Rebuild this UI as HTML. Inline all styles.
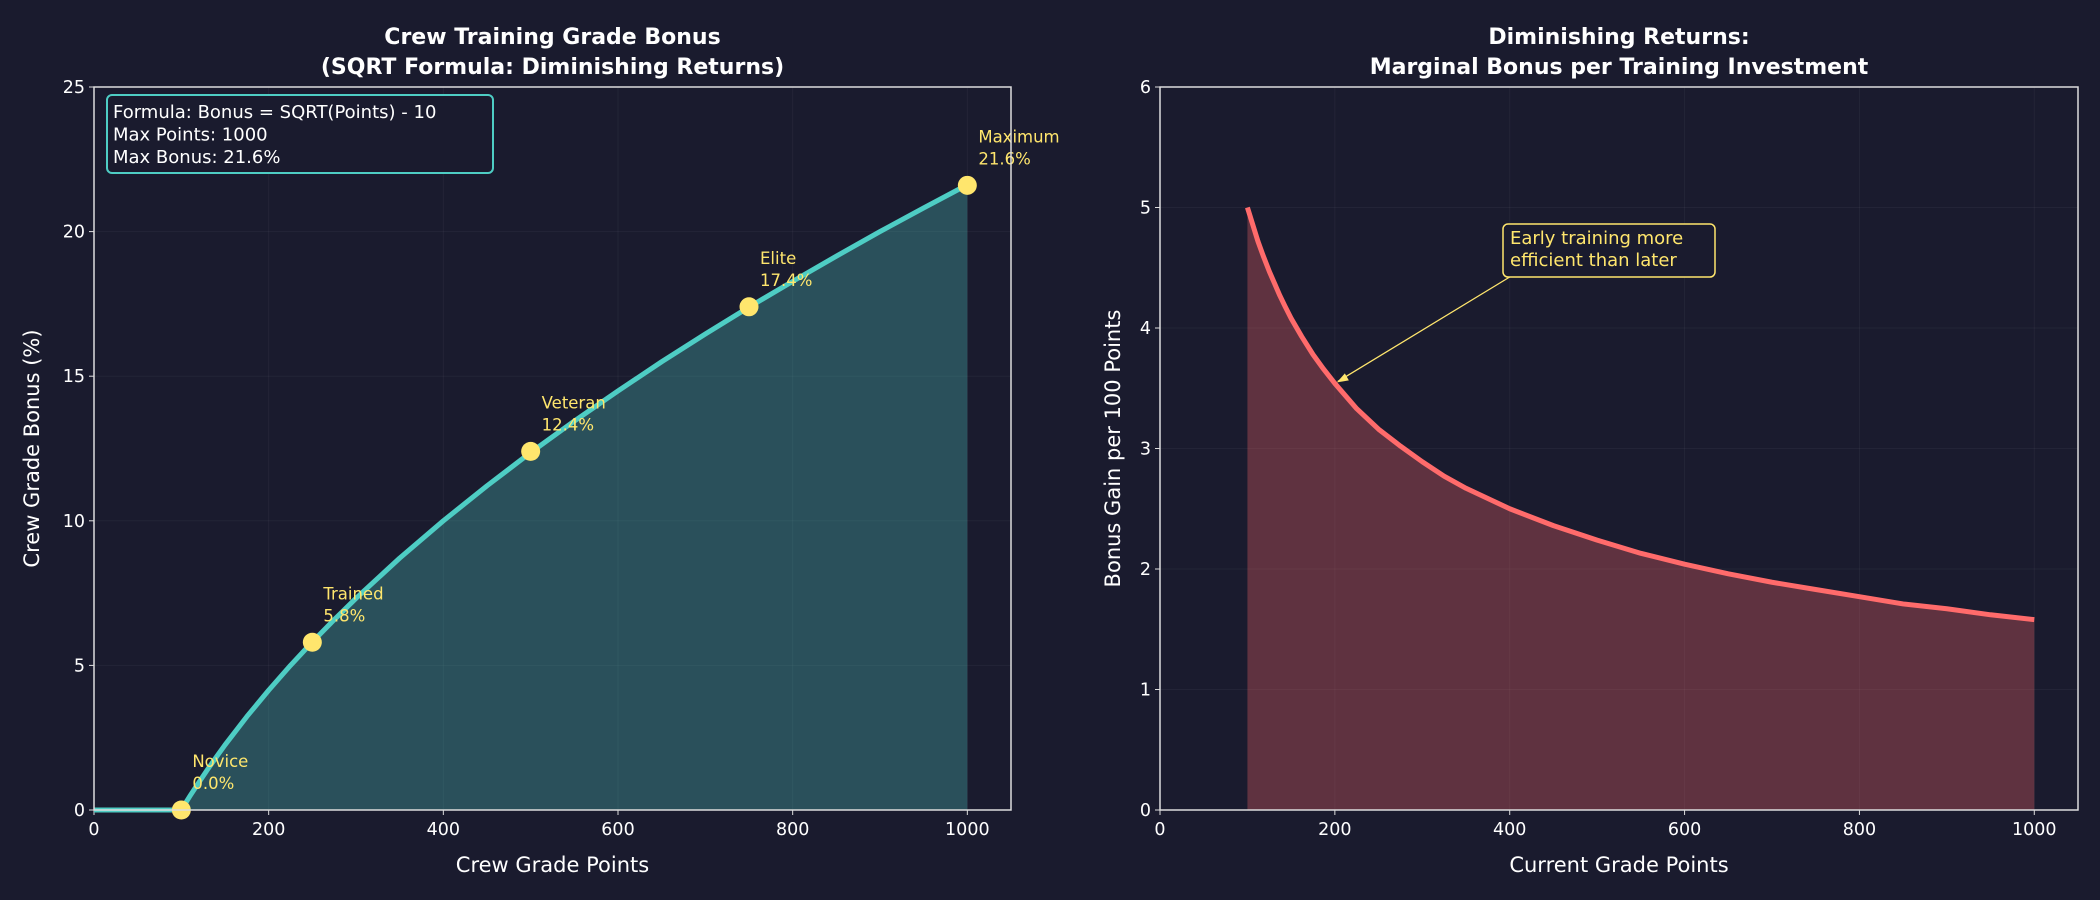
<!DOCTYPE html>
<html><head><meta charset="utf-8"><style>
html,body{margin:0;padding:0;background:#1a1b2e;}
svg{display:block;font-family:"DejaVu Sans","Liberation Sans",sans-serif;}
</style></head><body>
<svg id="chart" width="2100" height="900" viewBox="0 0 2100 900">
<rect width="2100" height="900" fill="#1a1b2e"/>
<g id="left"></g>
<g id="right"></g>
</svg>
<script>
const leftX = [0,50,100,105,110,120,130,140,150,175,200,225,250,275,300,350,400,450,500,550,600,650,700,750,800,850,900,950,1000];
const leftY = [0,0,0,0.25,0.49,0.95,1.40,1.83,2.25,3.23,4.14,5.00,5.81,6.58,7.32,8.71,10,11.21,12.36,13.45,14.49,15.50,16.46,17.39,18.28,19.15,20,20.82,21.62];
const markerX = [100,250,500,750,1000];
const markerY = [0,5.8,12.4,17.4,21.6];
const markerNames = ["Novice","Trained","Veteran","Elite","Maximum"];
const rightX = [100,106,112,118,125,131,137,143,150,162,175,187,200,225,250,275,300,325,350,400,450,500,550,600,650,700,750,800,850,900,950,1000];
const rightY = [5,4.86,4.72,4.60,4.47,4.37,4.27,4.18,4.08,3.93,3.78,3.66,3.54,3.33,3.16,3.02,2.89,2.77,2.67,2.5,2.36,2.24,2.13,2.04,1.96,1.89,1.83,1.77,1.71,1.67,1.62,1.58];
const xTicks = [0,200,400,600,800,1000];
const leftYTicks = [0,5,10,15,20,25];
const rightYTicks = [0,1,2,3,4,5,6];

const NS="http://www.w3.org/2000/svg";
function mk(parent,tag,attrs,text){const e=document.createElementNS(NS,tag);for(const k in attrs)e.setAttribute(k,attrs[k]);if(text!==undefined)e.textContent=text;parent.appendChild(e);return e;}
const Y0=87,Y1=810;
function axes(g,x0,x1,ymax,yTicks,title1,title2,xlabel,ylabel,ylx){
  const sx=v=>x0+v/1050*(x1-x0), sy=v=>Y1-v/ymax*(Y1-Y0);
  xTicks.forEach(t=>{
    const l=mk(g,'line',{x1:sx(t),x2:sx(t),y1:Y0,y2:Y1,stroke:'#ffffff','stroke-opacity':0.045});
    
    
    const tk=mk(g,'line',{x1:sx(t),x2:sx(t),y1:Y1,y2:Y1+5,stroke:'#ddd'});
    
    
    const tl=mk(g,'text',{x:sx(t),y:Y1+25,fill:'#fff','font-size':17.5,'text-anchor':'middle'},String(t));
    
    
  });
  yTicks.forEach(t=>{
    const l=mk(g,'line',{x1:x0,x2:x1,y1:sy(t),y2:sy(t),stroke:'#ffffff','stroke-opacity':0.045});
    
    
    const tk=mk(g,'line',{x1:x0-5,x2:x0,y1:sy(t),y2:sy(t),stroke:'#ddd'});
    
    
    const tl=mk(g,'text',{x:x0-9,y:sy(t)+6,fill:'#fff','font-size':17.5,'text-anchor':'end'},String(t));
    
    
  });
  const t1=mk(g,'text',{x:(x0+x1)/2,y:44,fill:'#fff','font-size':22,'font-weight':'bold','text-anchor':'middle'},title1);
  
  
  const t2=mk(g,'text',{x:(x0+x1)/2,y:74,fill:'#fff','font-size':22,'font-weight':'bold','text-anchor':'middle'},title2);
  
  
  const xl=mk(g,'text',{x:(x0+x1)/2,y:872,fill:'#fff','font-size':21,'text-anchor':'middle'},xlabel);
  
  
  const yl=mk(g,'text',{x:ylx,y:(Y0+Y1)/2,fill:'#fff','font-size':21,'text-anchor':'middle',transform:`rotate(-90 ${ylx} ${(Y0+Y1)/2})`},ylabel);
  
  
  return {sx,sy,frame:()=>{const f=mk(g,'rect',{x:x0,y:Y0,width:x1-x0,height:Y1-Y0,fill:'none',stroke:'#ddd','stroke-width':1.5});}};
}
// Left
const gl=document.getElementById('left');
const A=axes(gl,94,1011,25,leftYTicks,'Crew Training Grade Bonus','(SQRT Formula: Diminishing Returns)','Crew Grade Points','Crew Grade Bonus (%)',39);
let pts=leftX.map((x,i)=>A.sx(x)+','+A.sy(leftY[i])).join(' ');
const fl=mk(gl,'polygon',{points:pts+' '+A.sx(leftX[leftX.length-1])+','+A.sy(0)+' '+A.sx(0)+','+A.sy(0),fill:'#4ecdc4','fill-opacity':0.3});


const ln=mk(gl,'polyline',{points:pts,fill:'none',stroke:'#4ecdc4','stroke-width':5,'stroke-linejoin':'round'});


markerX.forEach((x,i)=>{
  const c=mk(gl,'circle',{cx:A.sx(x),cy:A.sy(markerY[i]),r:9.5,fill:'#ffe66d'});
  
  
  const t=mk(gl,'text',{x:A.sx(x)+11,y:A.sy(markerY[i])-43,fill:'#ffe66d','font-size':16.5},markerNames[i]);
  
  
  const v=mk(gl,'text',{x:A.sx(x)+11,y:A.sy(markerY[i])-21,fill:'#ffe66d','font-size':16.5},markerY[i].toFixed(1)+'%');
  
  
});
A.frame();
const ib=mk(gl,'rect',{x:107,y:95,width:386,height:78,rx:5,fill:'#1a1b2e',stroke:'#4ecdc4','stroke-width':2});


["Formula: Bonus = SQRT(Points) - 10","Max Points: 1000","Max Bonus: 21.6%"].forEach((s,i)=>{
  const t=mk(gl,'text',{x:113,y:118+i*22.5,fill:'#fff','font-size':18},s);
  
  
});
// Right
const gr=document.getElementById('right');
const B=axes(gr,1160,2078,6,rightYTicks,'Diminishing Returns:','Marginal Bonus per Training Investment','Current Grade Points','Bonus Gain per 100 Points',1120);
let pr=rightX.map((x,i)=>B.sx(x)+','+B.sy(rightY[i])).join(' ');
const fr=mk(gr,'polygon',{points:pr+' '+B.sx(rightX[rightX.length-1])+','+B.sy(0)+' '+B.sx(rightX[0])+','+B.sy(0),fill:'#ff6b6b','fill-opacity':0.3});


const lr=mk(gr,'polyline',{points:pr,fill:'none',stroke:'#ff6b6b','stroke-width':5,'stroke-linejoin':'round'});


B.frame();
const ax=B.sx(200), ay=B.sy(rightY[12]);
const ar=mk(gr,'line',{x1:1513,y1:275,x2:ax+3,y2:ay-2,stroke:'#ffe66d','stroke-width':1.3});


const ah=mk(gr,'polygon',{points:`${ax+2},${ay-1} ${ax+14},${ay-3} ${ax+10},${ay-10}`,fill:'#ffe66d'});


const ab=mk(gr,'rect',{x:1503,y:224,width:212,height:53,rx:5,fill:'#1a1b2e',stroke:'#ffe66d','stroke-width':1.5});


["Early training more","efficient than later"].forEach((s,i)=>{
  const t=mk(gr,'text',{x:1510,y:244+i*22,fill:'#ffe66d','font-size':18},s);
  
  
});
</script>
</body></html>
